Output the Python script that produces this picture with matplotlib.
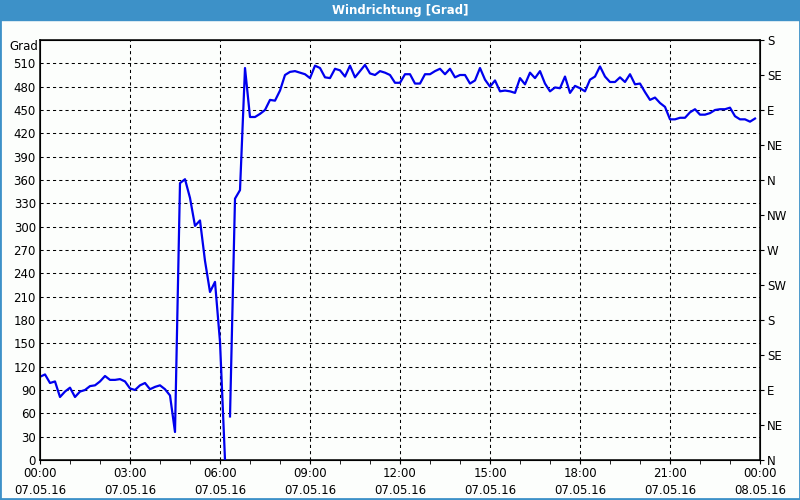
import numpy as np
import matplotlib
matplotlib.use('Agg')
import matplotlib.pyplot as plt
from matplotlib.patches import Rectangle

# Windrichtung, 10-Minuten-Werte ab 07.05.16 00:00
grad = [107, 110, 99, 101, 81, 88, 93, 81, 88, 90, 95, 96, 101, 108, 103, 103,
        104, 101, 92, 90, 96, 99, 91, 94, 96, 91, 83, 36, 356, 361, 337, 301,
        308, 256, 216, 229, 152, 0, 56, 336, 347, 504, 441, 441, 445, 450, 463, 462,
        475, 495, 499, 500, 498, 496, 491, 507, 504, 492, 491, 503, 501, 493, 507, 492,
        500, 508, 497, 495, 500, 498, 495, 485, 485, 496, 496, 484, 484, 496, 496, 500,
        503, 496, 503, 492, 495, 495, 484, 488, 504, 489, 480, 488, 474, 475, 474, 472,
        491, 483, 498, 491, 500, 484, 474, 479, 478, 493, 472, 481, 478, 474, 489, 493,
        506, 493, 486, 486, 492, 486, 496, 483, 484, 473, 463, 466, 459, 454, 438, 438,
        440, 440, 447, 451, 444, 444, 446, 450, 451, 451, 453, 442, 438, 438, 435, 439]
luecke_nach = 37  # fehlender Messwert zwischen 06:10 und 06:20

stunden = np.arange(len(grad)) / 6.0
werte = np.array(grad, dtype=float)
stunden = np.insert(stunden, luecke_nach + 1, stunden[luecke_nach] + 1 / 12)
werte = np.insert(werte, luecke_nach + 1, np.nan)

y_ticks = list(range(0, 511, 30))
richtung = ['N', 'NE', 'E', 'SE', 'S', 'SW', 'W', 'NW', 'N', 'NE', 'E', 'SE', 'S']
x_labels = ['00:00\n07.05.16', '03:00\n07.05.16', '06:00\n07.05.16', '09:00\n07.05.16',
            '12:00\n07.05.16', '15:00\n07.05.16', '18:00\n07.05.16', '21:00\n07.05.16',
            '00:00\n08.05.16']

blau = '#3d91c8'
fig = plt.figure(figsize=(8, 5), dpi=100)
fig.patch.set_facecolor('#fcfefc')

# Titelleiste + Fensterrahmen
fig.patches.append(Rectangle((0, 0.96), 1, 0.04, transform=fig.transFigure,
                             color=blau, zorder=0))
fig.patches.append(Rectangle((0.0006, 0.002), 0.9988, 0.997, transform=fig.transFigure,
                             fill=False, edgecolor=blau, linewidth=2, zorder=0))
fig.text(0.5, 0.979, 'Windrichtung [Grad]', color='white', fontsize=8.5,
         fontweight='bold', ha='center', va='center')

ax = fig.add_axes([0.05, 0.08, 0.90, 0.84])
ax.set_facecolor('#fcfefc')
ax.plot(stunden, werte, color='#0000ee', linewidth=1.6, zorder=3)

ax.set_xlim(0, 24)
ax.set_ylim(0, 540)
ax.set_yticks(y_ticks)
ax.set_yticklabels([str(v) for v in y_ticks], fontsize=8.5)
ax.tick_params(axis='y', length=0, pad=3)
ax.set_xticks(range(0, 25, 3))
ax.set_xticklabels(x_labels, fontsize=8.5, linespacing=1.45)
ax.set_xticks(range(0, 25), minor=True)
ax.tick_params(axis='x', which='both', length=3, direction='out', pad=2)

for v in y_ticks[1:]:
    ax.axhline(v, color='black', linewidth=0.75, linestyle=(0, (3, 3)), zorder=1)
for h in range(3, 24, 3):
    ax.axvline(h, color='black', linewidth=0.75, linestyle=(0, (3, 3)), zorder=1)

for s in ax.spines.values():
    s.set_linewidth(1.1)

ax2 = ax.twinx()
ax2.set_ylim(0, 540)
ax2.set_yticks(range(0, 541, 45))
ax2.set_yticklabels(richtung, fontsize=8.5)
ax2.tick_params(axis='y', length=3, direction='out', pad=2)

fig.text(0.03, 0.908, 'Grad', fontsize=8.5, ha='center', va='center')

fig.savefig('out.png', dpi=100, facecolor=fig.get_facecolor())
